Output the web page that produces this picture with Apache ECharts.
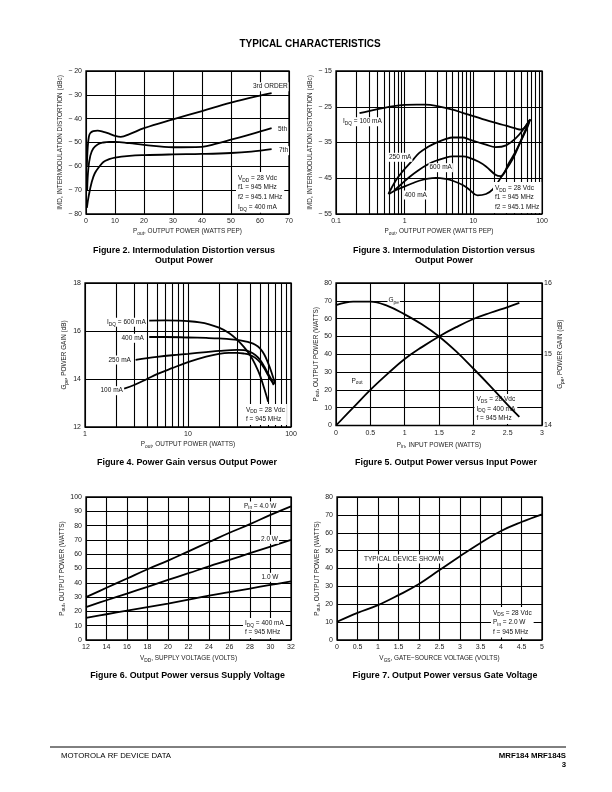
<!DOCTYPE html>
<html><head><meta charset="utf-8">
<script src="https://cdn.jsdelivr.net/npm/echarts@6/dist/echarts.min.js"></script>
<style>html,body{margin:0;padding:0;background:#fff}#c{width:612px;height:792px}</style>
</head><body><div id="c"></div>
<script>
// ---------- Figure 2: IMD vs Pout ----------
const f2_x3 = [0.3, 0.6, 1, 1.5, 2.5, 4, 6, 8, 10, 12, 15, 20, 30, 40, 50, 60, 64];
const f2_y3 = [-60, -52, -47.5, -46, -45.2, -45, -45.5, -46.3, -47.2, -47.6, -46.5, -44, -40.3, -36.8, -33.3, -30.3, -29.3];
const f2_x5 = [0.4, 0.8, 1.5, 2.5, 4, 6, 8, 10, 15, 20, 30, 40, 45, 50, 57, 64];
const f2_y5 = [-70, -61, -55.5, -52.5, -50.8, -50, -49.7, -49.7, -50.3, -51, -52, -51.8, -50.5, -48.8, -46.5, -44];
const f2_x7 = [0.3, 1, 2, 3, 4.5, 6, 8, 10, 15, 20, 30, 40, 50, 57, 64];
const f2_y7 = [-77.4, -72, -66.5, -63, -60.3, -58.2, -57, -56.3, -55.6, -55.3, -55, -54.8, -54.4, -53.8, -52.8];

// ---------- Figure 3: IMD vs Pout (log) ----------
const f3_x100 = [0.22, 0.3, 0.5, 0.7, 1, 1.5, 2, 3, 5, 7, 10, 15, 20, 30, 40, 50, 56, 62, 68];
const f3_y100 = [-26.8, -26.2, -25.3, -24.8, -24.5, -24.4, -24.4, -24.8, -25.8, -26.7, -27.6, -28.7, -29.4, -30.3, -31, -31.4, -30.8, -29.6, -28.5];
const f3_x250 = [0.58, 0.75, 0.94, 1.3, 1.63, 2.2, 2.85, 4, 5, 7, 8.8, 12, 15.3, 21, 30, 42, 55, 66];
const f3_y250 = [-49.4, -45.5, -43, -40, -37.9, -36.2, -35.1, -34, -33.6, -33.6, -34.2, -35, -35.6, -36.3, -35.8, -33.7, -31, -28.7];
const f3_x600 = [0.7, 0.9, 1.2, 1.63, 2.2, 2.85, 4, 5, 7, 8.8, 12, 15.3, 21, 25, 33, 44, 55, 66];
const f3_y600 = [-48.5, -46.6, -44.5, -42.6, -41.1, -40.1, -39.2, -38.9, -38.9, -39.3, -40.4, -41.7, -44, -44.4, -40.7, -36.5, -32.3, -28.8];
const f3_x400 = [0.585, 0.75, 0.94, 1.3, 1.63, 2.2, 2.85, 4, 5, 7, 8.8, 11.5, 15.3, 19, 26, 37, 49, 62, 67];
const f3_y400 = [-49.5, -48.3, -47.5, -46.4, -45.7, -45.1, -44.9, -45.2, -45.7, -46.9, -48.2, -49.8, -49.4, -48.2, -44.4, -39.8, -34.7, -30.5, -28.6];

// ---------- Figure 4: Gain vs Pout (log) ----------
const f4_x600 = [4.2, 6, 8, 10, 13, 16, 20, 25, 30, 35, 40, 45, 50, 55, 60];
const f4_y600 = [16.43, 16.44, 16.43, 16.41, 16.36, 16.28, 16.14, 15.92, 15.63, 15.33, 15.0, 14.6, 14.15, 13.6, 13.05];
const f4_x400 = [4.2, 6, 10, 15, 20, 25, 30, 35, 40, 45, 50, 55, 60, 65, 70];
const f4_y400 = [15.75, 15.75, 15.73, 15.71, 15.69, 15.66, 15.63, 15.58, 15.52, 15.43, 15.28, 15.02, 14.66, 14.25, 13.8];
const f4_x250 = [3.1, 5, 7, 10, 15, 20, 30, 35, 40, 45, 50, 55, 60, 65, 68];
const f4_y250 = [14.8, 14.92, 14.99, 15.05, 15.12, 15.17, 15.21, 15.2, 15.13, 15.0, 14.8, 14.52, 14.22, 13.95, 13.78];
const f4_x100 = [2.4, 3, 4, 5, 7, 10, 15, 20, 25, 30, 35, 40, 45, 50, 55, 60, 65, 68];
const f4_y100 = [13.6, 13.75, 14.0, 14.2, 14.45, 14.7, 14.93, 15.05, 15.09, 15.09, 15.06, 15.0, 14.88, 14.7, 14.45, 14.15, 13.9, 13.75];

// ---------- Figure 5: Pout & Gain vs Pin ----------
const f5_pin = [0, 0.25, 0.5, 0.75, 1, 1.25, 1.5, 1.75, 2, 2.25, 2.5, 2.67];
const f5_pout = [0, 10, 20, 29, 37.3, 44, 50, 55.2, 59.8, 63.3, 66.5, 68.8];
const f5_gain = [15.69, 15.74, 15.74, 15.68, 15.56, 15.42, 15.25, 15.04, 14.8, 14.55, 14.29, 14.12];

// ---------- Figure 6: Pout vs VDD ----------
const f6_vdd = [12, 14, 16, 18, 20, 22, 24, 26, 28, 30, 32];
const f6_p4 = [30, 36.5, 43, 49.5, 55.5, 62, 68.5, 75, 81, 87.5, 93.5];
const f6_p2 = [23, 27.8, 32.5, 37.2, 42, 46.7, 51.5, 56, 60.7, 65.3, 70];
const f6_p1 = [15.5, 18, 20.5, 23, 25.5, 28.2, 31, 33.5, 36, 38.5, 41];

// ---------- Figure 7: Pout vs VGS ----------
const f7_vgs = [0, 0.5, 1, 1.5, 2, 2.5, 3, 3.5, 4, 4.5, 5];
const f7_pout = [10.2, 15.2, 19.5, 25.1, 31.3, 39.1, 46.9, 54.3, 61, 66, 70.3];

// log-axis minor gridline values
const minor3 = [0.2,0.3,0.4,0.5,0.6,0.7,0.8,0.9,2,3,4,5,6,7,8,9,20,30,40,50,60,70,80,90];
const minor4 = [2,3,4,5,6,7,8,9,20,30,40,50,60,70,80,90];

const FONT = '"Liberation Sans", Arial, Helvetica, sans-serif';
const INK = '#111';
const RICH = { s: { fontSize: 4.8, lineHeight: 5, verticalAlign: 'bottom', fontFamily: FONT, color: INK } };
const RICHG = { s: { fontSize: 4.8, lineHeight: 5, verticalAlign: 'bottom', fontFamily: FONT, fill: INK, color: INK } };

const grids = [
  { left: 86, top: 71, width: 203, height: 143 },
  { left: 336, top: 71, width: 206, height: 143 },
  { left: 85, top: 283, width: 206, height: 144 },
  { left: 336, top: 283, width: 206, height: 142.5 },
  { left: 86, top: 497, width: 205, height: 143 },
  { left: 337, top: 497, width: 205, height: 143 }
].map(g => Object.assign({ show: true, borderColor: '#000', borderWidth: 1.3, backgroundColor: '#fff', containLabel: false }, g));

const negFmt = v => v < 0 ? '\u2212 ' + (-v) : String(v);
const logFmt = v => String(+(+v).toPrecision(3));

function ax(gi, o) {
  return Object.assign({
    gridIndex: gi, type: 'value',
    axisLine: { show: false }, axisTick: { show: false },
    splitLine: { show: true, lineStyle: { color: '#000', width: 1.1 } },
    axisLabel: { fontSize: 7, fontFamily: FONT, color: '#222', margin: 4 },
    nameLocation: 'middle',
    nameTextStyle: { fontSize: 6.4, fontFamily: FONT, color: '#222', lineHeight: 9, rich: RICH }
  }, o);
}

const xAxis = [
  ax(0, { min: 0, max: 70, interval: 10, name: 'P{s|out}, OUTPUT POWER (WATTS PEP)', nameGap: 13 }),
  ax(1, { type: 'log', logBase: 10, min: 0.1, max: 100, axisLabel: { fontSize: 7, fontFamily: FONT, color: '#222', margin: 4, formatter: logFmt }, name: 'P{s|out}, OUTPUT POWER (WATTS PEP)', nameGap: 13 }),
  ax(2, { type: 'log', logBase: 10, min: 1, max: 100, axisLabel: { fontSize: 7, fontFamily: FONT, color: '#222', margin: 4, formatter: logFmt }, name: 'P{s|out}, OUTPUT POWER (WATTS)', nameGap: 13 }),
  ax(3, { min: 0, max: 3, interval: 0.5, name: 'P{s|in}, INPUT POWER (WATTS)', nameGap: 15 }),
  ax(4, { min: 12, max: 32, interval: 2, name: 'V{s|DD}, SUPPLY VOLTAGE (VOLTS)', nameGap: 14 }),
  ax(5, { min: 0, max: 5, interval: 0.5, name: 'V{s|GS}, GATE\u2212SOURCE VOLTAGE (VOLTS)', nameGap: 14 })
];

const yAxis = [
  ax(0, { min: -80, max: -20, interval: 10, axisLabel: { fontSize: 7, fontFamily: FONT, color: '#222', margin: 4, formatter: negFmt }, name: 'IMD, INTERMODULATION DISTORTION (dBc)', nameGap: 19 }),
  ax(1, { min: -55, max: -15, interval: 10, axisLabel: { fontSize: 7, fontFamily: FONT, color: '#222', margin: 4, formatter: negFmt }, name: 'IMD, INTERMODULATION DISTORTION (dBc)', nameGap: 17 }),
  ax(2, { min: 12, max: 18, interval: 2, name: 'G{s|pe}, POWER GAIN (dB)', nameGap: 16 }),
  ax(3, { min: 0, max: 80, interval: 10, name: 'P{s|out}, OUTPUT POWER (WATTS)', nameGap: 14 }),
  ax(3, { position: 'right', min: 14, max: 16, interval: 1, splitLine: { show: false }, axisLabel: { fontSize: 7, fontFamily: FONT, color: '#222', margin: 2 }, name: 'G{s|pe}, POWER GAIN (dB)', nameGap: 12 }),
  ax(4, { min: 0, max: 100, interval: 10, name: 'P{s|out}, OUTPUT POWER (WATTS)', nameGap: 16 }),
  ax(5, { min: 0, max: 80, interval: 10, name: 'P{s|out}, OUTPUT POWER (WATTS)', nameGap: 14 })
];

const zip = (xs, ys) => xs.map((v, i) => [v, ys[i]]);
function line(xi, yi, xs, ys, extra) {
  return Object.assign({
    type: 'line', xAxisIndex: xi, yAxisIndex: yi, data: zip(xs, ys),
    showSymbol: false, symbol: 'none', smooth: 0.4, silent: true, z: 3,
    lineStyle: { color: '#000', width: 1.8 }
  }, extra || {});
}
function minorLines(vals) {
  return { markLine: { silent: true, symbol: ['none', 'none'], label: { show: false }, animation: false,
    lineStyle: { color: '#000', width: 1.1, type: 'solid' }, data: vals.map(v => ({ xAxis: v })) } };
}

const series = [
  line(0, 0, f2_x3, f2_y3), line(0, 0, f2_x5, f2_y5), line(0, 0, f2_x7, f2_y7),
  line(1, 1, f3_x100, f3_y100, minorLines(minor3)), line(1, 1, f3_x250, f3_y250),
  line(1, 1, f3_x600, f3_y600), line(1, 1, f3_x400, f3_y400),
  line(2, 2, f4_x600, f4_y600, minorLines(minor4)), line(2, 2, f4_x400, f4_y400),
  line(2, 2, f4_x250, f4_y250), line(2, 2, f4_x100, f4_y100),
  line(3, 3, f5_pin, f5_pout), line(3, 4, f5_pin, f5_gain, { z: 120 }),
  line(4, 5, f6_vdd, f6_p4), line(4, 5, f6_vdd, f6_p2), line(4, 5, f6_vdd, f6_p1),
  line(5, 6, f7_vgs, f7_pout)
];

function T(x, y, text, o) {
  return { type: 'text', x: x, y: y, z: 100, silent: true,
    style: Object.assign({ text: text, fontSize: 6.5, fontFamily: FONT, fill: INK, align: 'left',
      verticalAlign: 'middle', lineHeight: 9, rich: RICHG, backgroundColor: '#fff', padding: [0, 1] }, o || {}) };
}
function CAP(x, y, text) {
  return { type: 'text', x: x, y: y, z: 100, silent: true,
    style: { text: text, fontSize: 8.9, fontWeight: 'bold', fontFamily: FONT, fill: '#000', align: 'center', verticalAlign: 'middle', lineHeight: 10 } };
}

const graphic = [
  { type: 'text', x: 310, y: 44, z: 100, style: { text: 'TYPICAL CHARACTERISTICS', fontSize: 10, fontWeight: 'bold', fontFamily: FONT, fill: '#000', align: 'center', verticalAlign: 'middle' } },
  // Fig 2
  T(252, 86.7, '3rd ORDER'), T(277, 129.3, '5th'), T(278, 150.7, '7th'),
  T(236, 172, 'V{s|DD} = 28 Vdc\nf1 = 945 MHz\nf2 = 945.1 MHz\nI{s|DQ} = 400 mA', { verticalAlign: 'top', lineHeight: 9.7, padding: [1, 2] }),
  // Fig 3
  T(342, 121.7, 'I{s|DQ} = 100 mA'), T(388, 157.3, '250 mA'), T(428.5, 167.7, '600 mA'), T(403.5, 195, '400 mA'),
  T(493, 182, 'V{s|DD} = 28 Vdc\nf1 = 945 MHz\nf2 = 945.1 MHz', { verticalAlign: 'top', lineHeight: 9.7, padding: [1, 2] }),
  // Fig 4
  T(106, 322.3, 'I{s|DQ} = 600 mA'), T(120.5, 338.3, '400 mA'), T(107.5, 360, '250 mA'), T(99.5, 390.7, '100 mA'),
  T(244, 404, 'V{s|DD} = 28 Vdc\nf = 945 MHz', { verticalAlign: 'top', lineHeight: 9.5, padding: [1, 2] }),
  // Fig 5
  T(387.5, 300.7, 'G{s|pe}'), T(350.5, 381, 'P{s|out}'),
  T(474.5, 394, 'V{s|DS} = 28 Vdc\nI{s|DQ} = 400 mA\nf = 945 MHz', { verticalAlign: 'top', lineHeight: 9.3, padding: [1, 2] }),
  // Fig 6
  T(243, 506, 'P{s|in} = 4.0 W'), T(260, 539.3, '2.0 W'), T(260.5, 577.3, '1.0 W'),
  T(243, 618, 'I{s|DQ} = 400 mA\nf = 945 MHz', { verticalAlign: 'top', lineHeight: 9, padding: [1, 2] }),
  // Fig 7
  T(363, 559, 'TYPICAL DEVICE SHOWN'),
  T(491, 607, 'V{s|DS} = 28 Vdc\nP{s|in} = 2.0 W\nf = 945 MHz', { verticalAlign: 'top', lineHeight: 9.5, padding: [1, 2] }),
  // Captions
  CAP(184, 255.7, 'Figure 2. Intermodulation Distortion versus\nOutput Power'),
  CAP(444, 255.7, 'Figure 3. Intermodulation Distortion versus\nOutput Power'),
  CAP(187, 462.7, 'Figure 4. Power Gain versus Output Power'),
  CAP(446, 462.7, 'Figure 5. Output Power versus Input Power'),
  CAP(187.5, 675.7, 'Figure 6. Output Power versus Supply Voltage'),
  CAP(445, 675.7, 'Figure 7. Output Power versus Gate Voltage'),
  // Footer
  { type: 'line', z: 100, shape: { x1: 50, y1: 747, x2: 566, y2: 747 }, style: { stroke: '#000', lineWidth: 1 } },
  { type: 'text', x: 61, y: 755.5, z: 100, style: { text: 'MOTOROLA RF DEVICE DATA', fontSize: 7.8, fontFamily: FONT, fill: '#000', align: 'left', verticalAlign: 'middle' } },
  { type: 'text', x: 566, y: 755.5, z: 100, style: { text: 'MRF184 MRF184S', fontSize: 7.8, fontWeight: 'bold', fontFamily: FONT, fill: '#000', align: 'right', verticalAlign: 'middle' } },
  { type: 'text', x: 566, y: 764.5, z: 100, style: { text: '3', fontSize: 7.8, fontWeight: 'bold', fontFamily: FONT, fill: '#000', align: 'right', verticalAlign: 'middle' } }
];

const chart = echarts.init(document.getElementById('c'), null, { renderer: 'canvas', width: 612, height: 792 });
chart.setOption({
  animation: false,
  backgroundColor: '#fff',
  textStyle: { fontFamily: FONT },
  grid: grids, xAxis: xAxis, yAxis: yAxis, series: series, graphic: graphic
});
</script></body></html>
